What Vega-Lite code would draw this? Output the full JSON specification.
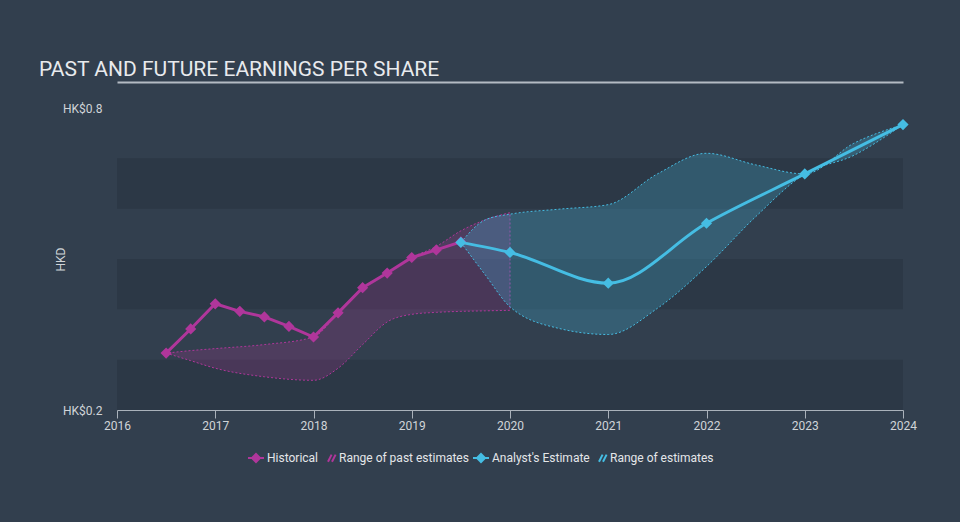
{
  "$schema": "https://vega.github.io/schema/vega-lite/v6.json",
  "width": 786,
  "height": 302,
  "autosize": "none",
  "padding": {"left": 117, "top": 108, "right": 57, "bottom": 112},
  "background": "#323f4e",
  "title": {
    "text": "PAST AND FUTURE EARNINGS PER SHARE",
    "anchor": "start",
    "frame": "group",
    "dx": -78,
    "dy": 21,
    "offset": 6,
    "baseline": "alphabetic",
    "font": "Roboto",
    "fontSize": 21,
    "fontWeight": "normal",
    "color": "#e8eaed"
  },
  "datasets": {
    "bands": [
      {"b0": 0.2, "b1": 0.3},
      {"b0": 0.4, "b1": 0.5},
      {"b0": 0.6, "b1": 0.7}
    ],
    "pastRange": [
      {"year": 2016.5, "lo": 0.313, "hi": 0.313},
      {"year": 2016.75, "lo": 0.298, "hi": 0.318},
      {"year": 2017.0, "lo": 0.283, "hi": 0.322},
      {"year": 2017.5, "lo": 0.266, "hi": 0.330},
      {"year": 2018.0, "lo": 0.259, "hi": 0.345},
      {"year": 2018.25, "lo": 0.283, "hi": 0.393},
      {"year": 2018.5, "lo": 0.330, "hi": 0.443},
      {"year": 2018.75, "lo": 0.375, "hi": 0.472},
      {"year": 2019.0, "lo": 0.390, "hi": 0.503},
      {"year": 2019.25, "lo": 0.394, "hi": 0.525},
      {"year": 2019.5, "lo": 0.396, "hi": 0.556},
      {"year": 2019.75, "lo": 0.397, "hi": 0.578},
      {"year": 2020.0, "lo": 0.398, "hi": 0.592}
    ],
    "estRange": [
      {"year": 2019.5, "lo": 0.533, "hi": 0.533},
      {"year": 2019.75, "lo": 0.468, "hi": 0.578},
      {"year": 2020.0, "lo": 0.405, "hi": 0.589},
      {"year": 2020.5, "lo": 0.362, "hi": 0.599},
      {"year": 2021.0, "lo": 0.350, "hi": 0.608},
      {"year": 2021.5, "lo": 0.402, "hi": 0.669},
      {"year": 2022.0, "lo": 0.485, "hi": 0.710},
      {"year": 2022.5, "lo": 0.584, "hi": 0.687},
      {"year": 2023.0, "lo": 0.669, "hi": 0.669},
      {"year": 2023.5, "lo": 0.706, "hi": 0.730},
      {"year": 2024.0, "lo": 0.767, "hi": 0.767}
    ],
    "series": [
      {"series": "Historical", "year": 2016.5, "eps": 0.313},
      {"series": "Historical", "year": 2016.75, "eps": 0.361},
      {"series": "Historical", "year": 2017.0, "eps": 0.411},
      {"series": "Historical", "year": 2017.25, "eps": 0.396},
      {"series": "Historical", "year": 2017.5, "eps": 0.385},
      {"series": "Historical", "year": 2017.75, "eps": 0.366},
      {"series": "Historical", "year": 2018.0, "eps": 0.345},
      {"series": "Historical", "year": 2018.25, "eps": 0.393},
      {"series": "Historical", "year": 2018.5, "eps": 0.443},
      {"series": "Historical", "year": 2018.75, "eps": 0.472},
      {"series": "Historical", "year": 2019.0, "eps": 0.503},
      {"series": "Historical", "year": 2019.25, "eps": 0.518},
      {"series": "Historical", "year": 2019.5, "eps": 0.534},
      {"series": "Analyst's Estimate", "year": 2019.5, "eps": 0.533},
      {"series": "Analyst's Estimate", "year": 2020.0, "eps": 0.513},
      {"series": "Analyst's Estimate", "year": 2021.0, "eps": 0.452},
      {"series": "Analyst's Estimate", "year": 2022.0, "eps": 0.571},
      {"series": "Analyst's Estimate", "year": 2023.0, "eps": 0.669},
      {"series": "Analyst's Estimate", "year": 2024.0, "eps": 0.767}
    ]
  },
  "resolve": {"axis": {"x": "independent"}},
  "layer": [
    {
      "data": {"name": "bands"},
      "mark": {"type": "rect", "color": "#2c3846"},
      "encoding": {
        "y": {
          "field": "b0",
          "type": "quantitative",
          "scale": {"domain": [0.2, 0.8], "nice": false, "zero": false},
          "axis": {
            "values": [0.2, 0.8],
            "labelExpr": "'HK$' + format(datum.value, '.1f')",
            "domain": false,
            "ticks": false,
            "tickSize": 0,
            "grid": false,
            "labelPadding": 15,
            "labelColor": "#d0d4d8",
            "labelFont": "Roboto",
            "labelFontSize": 12,
            "title": "HKD",
            "titleX": -57,
            "titleY": 151,
            "titleAngle": -90,
            "titleAlign": "center",
            "titleBaseline": "middle",
            "titleFont": "Roboto",
            "titleFontSize": 12,
            "titleFontWeight": "normal",
            "titleColor": "#d0d4d8"
          }
        },
        "y2": {"field": "b1"}
      }
    },
    {
      "data": {"name": "pastRange"},
      "mark": {
        "type": "area",
        "interpolate": "monotone",
        "color": "#b0369b",
        "fillOpacity": 0.22,
        "stroke": "#b0369b",
        "strokeWidth": 1,
        "strokeDash": [2, 2]
      },
      "encoding": {
        "x": {"field": "year", "type": "quantitative", "scale": {"domain": [2016, 2024], "nice": false, "zero": false}, "axis": null},
        "y": {"field": "lo", "type": "quantitative"},
        "y2": {"field": "hi"}
      }
    },
    {
      "data": {"name": "estRange"},
      "mark": {
        "type": "area",
        "interpolate": "monotone",
        "color": "#45bde3",
        "fillOpacity": 0.25,
        "stroke": "#45bde3",
        "strokeWidth": 1,
        "strokeDash": [2, 2]
      },
      "encoding": {
        "x": {
          "field": "year",
          "type": "quantitative",
          "axis": {
            "orient": "top",
            "offset": 26,
            "labels": false,
            "ticks": false,
            "grid": false,
            "domain": true,
            "domainColor": "#b4bbc3",
            "domainWidth": 2,
            "title": null
          }
        },
        "y": {"field": "lo", "type": "quantitative"},
        "y2": {"field": "hi"}
      }
    },
    {
      "data": {"name": "series"},
      "transform": [{"filter": "datum.series === 'Historical'"}],
      "mark": {"type": "line", "color": "#b0369b", "strokeWidth": 3},
      "encoding": {
        "x": {
          "field": "year",
          "type": "quantitative",
          "axis": {
            "values": [2016, 2017, 2018, 2019, 2020, 2021, 2022, 2023, 2024],
            "format": "d",
            "labelFlush": false,
            "grid": false,
            "domainColor": "#aab2bb",
            "tickColor": "#aab2bb",
            "tickSize": 8,
            "labelPadding": 2,
            "labelColor": "#d0d4d8",
            "labelFont": "Roboto",
            "labelFontSize": 12,
            "title": null
          }
        },
        "y": {"field": "eps", "type": "quantitative"}
      }
    },
    {
      "data": {"name": "series"},
      "transform": [{"filter": "datum.series === \"Analyst's Estimate\""}],
      "mark": {"type": "line", "color": "#45bde3", "strokeWidth": 3, "interpolate": "monotone"},
      "encoding": {
        "x": {"field": "year", "type": "quantitative", "axis": null},
        "y": {"field": "eps", "type": "quantitative"}
      }
    },
    {
      "data": {"name": "series"},
      "mark": {"type": "point", "filled": true, "opacity": 1, "size": 500, "strokeWidth": 0},
      "encoding": {
        "x": {"field": "year", "type": "quantitative", "axis": null},
        "y": {"field": "eps", "type": "quantitative"},
        "fill": {
          "field": "series",
          "type": "nominal",
          "scale": {
            "domain": ["Historical", "Range of past estimates", "Analyst's Estimate", "Range of estimates"],
            "range": ["#b0369b", "#b0369b", "#45bde3", "#45bde3"]
          },
          "legend": {
            "title": null,
            "orient": "none",
            "legendX": 130,
            "legendY": 341,
            "direction": "horizontal",
            "columns": 4,
            "columnPadding": 0,
            "labelOffset": 2,
            "labelColor": "#e4e6e9",
            "labelFont": "Roboto",
            "labelFontSize": 12,
            "labelFontWeight": "normal",
            "symbolSize": 256,
            "symbolStrokeWidth": 2,
            "encode": {
              "symbols": {
                "update": {
                  "strokeWidth": {"value": 2},
                  "size": {"value": 256}
                }
              }
            }
          }
        },
        "stroke": {
          "field": "series",
          "type": "nominal",
          "scale": {
            "domain": ["Historical", "Range of past estimates", "Analyst's Estimate", "Range of estimates"],
            "range": ["#b0369b", "#b0369b", "#45bde3", "#45bde3"]
          },
          "legend": {"title": null}
        },
        "shape": {
          "field": "series",
          "type": "nominal",
          "scale": {
            "domain": ["Historical", "Range of past estimates", "Analyst's Estimate", "Range of estimates"],
            "range": [
              "M-1,0L1,0M0,-0.5L0.5,0L0,0.5L-0.5,0Z",
              "M0,0.45L0.45,-0.45M0.5,0.45L0.95,-0.45",
              "M-1,0L1,0M0,-0.5L0.5,0L0,0.5L-0.5,0Z",
              "M0,0.45L0.45,-0.45M0.5,0.45L0.95,-0.45"
            ]
          },
          "legend": {"title": null}
        }
      }
    }
  ],
  "config": {
    "view": {"stroke": null},
    "font": "Roboto"
  }
}
